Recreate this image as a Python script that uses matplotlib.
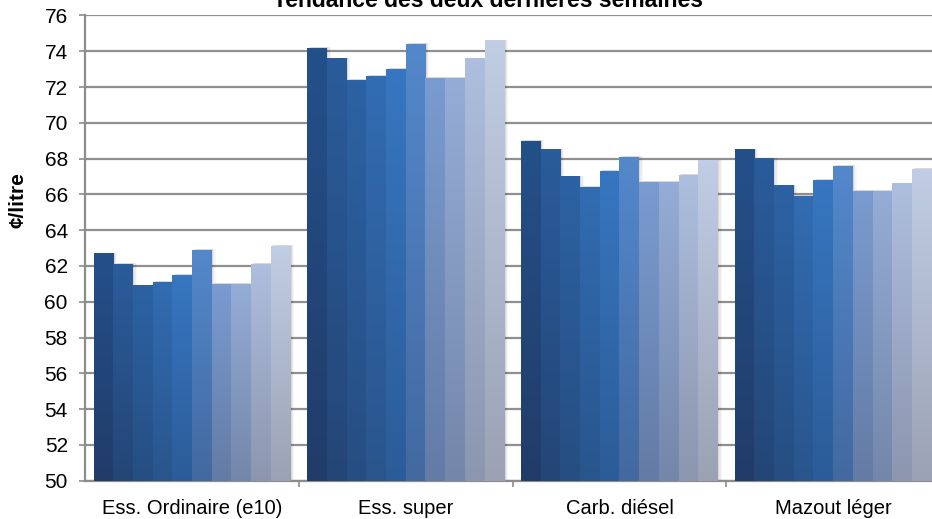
import numpy as np
import matplotlib.pyplot as plt
from matplotlib.colors import to_rgb
from matplotlib.patches import Rectangle

plt.rcParams['font.family'] = ['Liberation Sans', 'DejaVu Sans']

# Data
categories = ["Ess. Ordinaire (e10)", "Ess. super", "Carb. diésel", "Mazout léger"]
ordinaire = [62.7, 62.1, 60.9, 61.1, 61.5, 62.9, 61.0, 61.0, 62.1, 63.1]
super_ = [74.2, 73.6, 72.4, 72.6, 73.0, 74.4, 72.5, 72.5, 73.6, 74.6]
diesel = [69.0, 68.5, 67.0, 66.4, 67.3, 68.1, 66.7, 66.7, 67.1, 67.9]
mazout = [68.5, 68.0, 66.5, 65.9, 66.8, 67.6, 66.2, 66.2, 66.6, 67.4]
yticks = list(range(50, 77, 2))

values = np.array([ordinaire, super_, diesel, mazout])  # category x series

# gradient colours for the 10 series (top of bar, bottom of bar)
top_cols = ["#24508a", "#2a5c9b", "#2c62a3", "#326cb2", "#3776c0",
            "#5388cb", "#7a9bd0", "#95acd6", "#adbede", "#c1cde4"]
bot_cols = ["#213c69", "#244676", "#264e82", "#29558c", "#2c5c98",
            "#4369a0", "#647ba5", "#7387aa", "#8c96af", "#9ba2b4"]

fig = plt.figure(figsize=(9.32, 5.19), dpi=100)
ax = fig.add_axes([85.2 / 932, 38.3 / 519, 4 * 213.7 / 932, 465.2 / 519])

n = values.shape[1]
w = 0.0922
x = np.arange(len(categories))
ymin = 50

for i in range(n):
    bars = ax.bar(x + (i - (n - 1) / 2) * w, values[:, i] - ymin, bottom=ymin,
                  width=w, color='none', zorder=3)
    c_top = np.array(to_rgb(top_cols[i]))
    c_bot = np.array(to_rgb(bot_cols[i]))
    for p in bars.patches:
        x0 = p.get_x()
        x1 = x0 + p.get_width()
        y1 = p.get_y() + p.get_height()
        # soft drop shadow
        for k, a in [(0.006, 0.07), (0.012, 0.05), (0.018, 0.03)]:
            ax.add_patch(Rectangle((x0 + k, ymin), p.get_width(), y1 - ymin + 0.05,
                                   facecolor='black', alpha=a, lw=0, zorder=2.5))
        t = np.linspace(0, 1, 64)[:, None]
        grad = (c_bot * (1 - t) + c_top * t)[:, None, :]
        ax.imshow(grad, extent=(x0, x1, ymin, y1), origin='lower',
                  aspect='auto', interpolation='bilinear', zorder=3)

ax.set_xlim(-0.5, len(categories) - 0.5)
ax.set_ylim(50, 76)
ax.set_yticks(yticks)
ax.set_yticklabels([str(v) for v in yticks], fontsize=15)
ax.set_xticks(x)
ax.set_xticklabels(categories, fontsize=14.5)
ax.set_xticks(np.arange(len(categories)) + 0.5, minor=True)

ax.tick_params(axis='x', which='major', length=0, pad=13)
ax.tick_params(axis='x', which='minor', length=4.5, color='#8c8c8c', width=1.2)
ax.tick_params(axis='y', length=4.5, color='#8c8c8c', width=1.2, pad=8)

ax.grid(axis='y', color='#8f8f8f', linewidth=1.6, zorder=1)
ax.set_axisbelow(True)
for s in ['top', 'right']:
    ax.spines[s].set_visible(False)
for s in ['left', 'bottom']:
    ax.spines[s].set_color('#8c8c8c')
    ax.spines[s].set_linewidth(1.6)

fig.text(18 / 932, 1 - 200 / 519, "¢/litre", rotation=90, fontsize=15,
         fontweight='bold', ha='center', va='center')
fig.text(488 / 932, 1 - 6.7 / 519, "Tendance des deux dernières semaines",
         fontsize=16.5, fontweight='bold', ha='center', va='baseline')

fig.savefig("out.png", dpi=100)
